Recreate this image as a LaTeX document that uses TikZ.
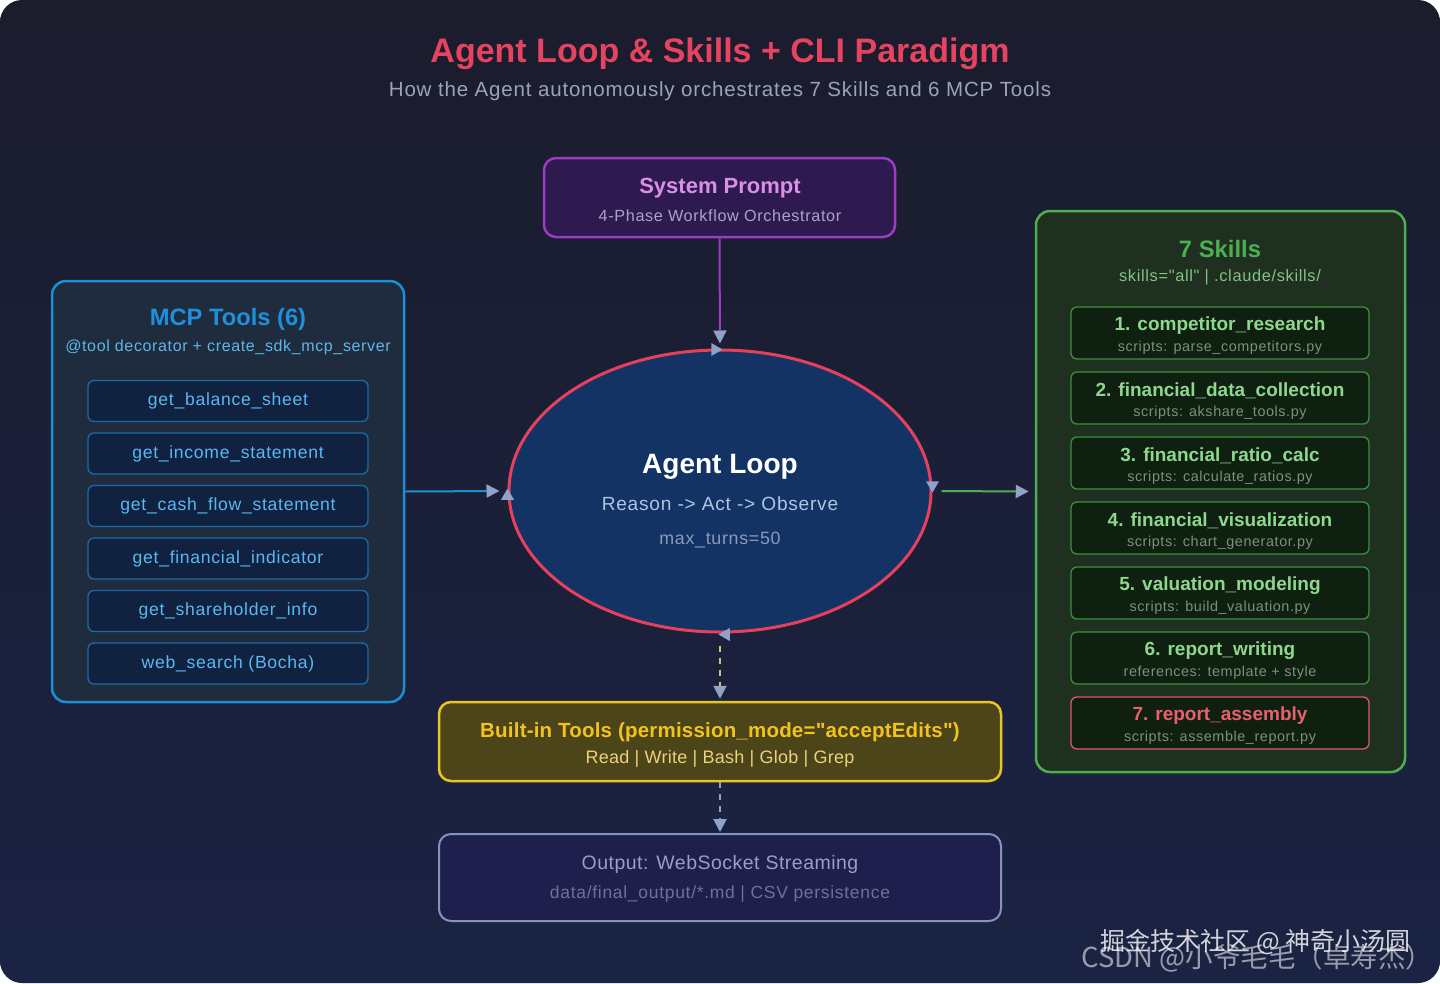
\documentclass[tikz,border=0pt]{standalone}
\usepackage{fontspec}
\setmainfont{Liberation Sans}[Ligatures=TeXOff]
\newfontfamily\cjk{Noto Sans CJK SC}
\usetikzlibrary{arrows.meta,shapes.geometric}
\definecolor{bgtop}{HTML}{1B1C2C}
\definecolor{bgbot}{HTML}{1B2344}
\definecolor{titlec}{HTML}{E5435F}
\definecolor{subc}{HTML}{9AA3BD}
\definecolor{spfill}{HTML}{2E1A4F}
\definecolor{spdraw}{HTML}{9C3CC2}
\definecolor{sptext}{HTML}{D890E4}
\definecolor{spsub}{HTML}{A8A2D0}
\definecolor{mcpfill}{HTML}{1F2C3E}
\definecolor{mcpdraw}{HTML}{1B8FD8}
\definecolor{mcptext}{HTML}{1E90DC}
\definecolor{mcpsub}{HTML}{5FB5E8}
\definecolor{itemfill}{HTML}{10223F}
\definecolor{itemdraw}{HTML}{1D6AA8}
\definecolor{itemtext}{HTML}{5AB8F0}
\definecolor{ellfill}{HTML}{123363}
\definecolor{elldraw}{HTML}{E5405C}
\definecolor{reasonc}{HTML}{B0C4E4}
\definecolor{maxc}{HTML}{8A9CBC}
\definecolor{skfill}{HTML}{1F2F20}
\definecolor{skdraw}{HTML}{4CB050}
\definecolor{sksub}{HTML}{82C482}
\definecolor{sifill}{HTML}{102010}
\definecolor{sidraw}{HTML}{3D8F3D}
\definecolor{sititle}{HTML}{8ED88E}
\definecolor{sisub}{HTML}{7D8F7D}
\definecolor{redd}{HTML}{E0566A}
\definecolor{redt}{HTML}{E8606E}
\definecolor{btfill}{HTML}{4B4519}
\definecolor{btdraw}{HTML}{EAC425}
\definecolor{bttitle}{HTML}{F2C21F}
\definecolor{btsub}{HTML}{ECD27A}
\definecolor{outfill}{HTML}{1E1F4C}
\definecolor{outdraw}{HTML}{8494BD}
\definecolor{outtitle}{HTML}{9AA0C0}
\definecolor{outsub}{HTML}{6C7394}
\definecolor{arrowc}{HTML}{8FA3C8}
\definecolor{dashy}{HTML}{D8C45A}
\begin{document}
\begin{tikzpicture}[x=1pt,y=-1pt,
  fs/.style 2 args={font=\fontsize{#1}{#1}\selectfont\addfontfeature{LetterSpace=#2}, yshift=-2pt},
  fsb/.style 2 args={font=\fontsize{#1}{#1}\selectfont\bfseries\addfontfeature{LetterSpace=#2}, yshift=-2pt},
  container/.style={draw, line width=2.5pt, rounded corners=14pt, inner sep=0pt},
  toolbox/.style={draw=itemdraw, fill=itemfill, line width=1.3pt, rounded corners=6pt,
     minimum width=280pt, minimum height=41pt, inner sep=0pt, text=itemtext, fs={17.6}{4}},
  skillbox/.style={draw=sidraw, fill=sifill, line width=1.3pt, rounded corners=6pt,
     minimum width=298pt, minimum height=52pt, inner sep=0pt},
  sktitle/.style={fsb={19}{0}, text=sititle, inner sep=0pt},
  sksubt/.style={fs={14.4}{4}, text=sisub, inner sep=0pt},
  tip/.style={-{Triangle[length=13pt,width=13pt,color=arrowc]}},
  tipmark/.style={regular polygon, regular polygon sides=3, fill=arrowc, inner sep=0pt, minimum size=15pt}
]
% background
\shade[top color=bgtop, bottom color=bgbot, rounded corners=22pt] (0,0) rectangle (1440,983);
\useasboundingbox (0,0) rectangle (1440,983);

% title
\node[fsb={34}{0}, yshift=-2pt, text=titlec] (title) at (720,50) {Agent Loop \& Skills + CLI Paradigm};
\node[fs={20.5}{4}, text=subc] (subtitle) at (720,89) {How the Agent autonomously orchestrates 7 Skills and 6 MCP Tools};

% system prompt
\node[container, draw=spdraw, fill=spfill, rounded corners=12pt, minimum width=351pt, minimum height=79pt] (sp) at (719.5,197.5) {};
\node[fsb={22}{0}, text=sptext] (spt) at (720,186) {System Prompt};
\node[fs={16.2}{4}, text=spsub] (sps) at (720,214) {4-Phase Workflow Orchestrator};

% MCP tools
\node[container, draw=mcpdraw, fill=mcpfill, minimum width=352pt, minimum height=421pt] (mcp) at (228,491.5) {};
\node[fsb={23.7}{0}, text=mcptext] (mcpt) at (228,317) {MCP Tools (6)};
\node[fs={16}{4}, text=mcpsub] (mcps) at (228,345) {@tool decorator + create\_sdk\_mcp\_server};
\node[toolbox] (m1) at (228,399) {get\_balance\_sheet};
\node[toolbox] (m2) at (228,451.5) {get\_income\_statement};
\node[toolbox] (m3) at (228,504) {get\_cash\_flow\_statement};
\node[toolbox] (m4) at (228,556.5) {get\_financial\_indicator};
\node[toolbox] (m5) at (228,609) {get\_shareholder\_info};
\node[toolbox] (m6) at (228,661.5) {web\_search (Bocha)};

% agent loop
\node[ellipse, draw=elldraw, fill=ellfill, line width=3pt, minimum width=422pt, minimum height=282pt, inner sep=0pt] (loop) at (720,491) {};
\node[fsb={28}{0}, text=white] (loopt) at (720,465) {Agent Loop};
\node[fs={19.1}{4}, text=reasonc] (loops) at (720,502) {Reason -> Act -> Observe};
\node[fs={17.8}{4}, text=maxc] (loopm) at (720,538) {max\_turns=50};

% skills
\node[container, draw=skdraw, fill=skfill, minimum width=369pt, minimum height=561pt] (sk) at (1220.5,491.5) {};
\node[fsb={23.8}{0}, text=skdraw] (skt) at (1220,247) {7 Skills};
\node[fs={16.4}{4}, text=sksub] (sks) at (1220,275) {skills="all" | .claude/skills/};

\node[skillbox] (s1) at (1220,333) {};
\node[sktitle] (s1t) at (1220,324) {1. competitor\_research};
\node[sksubt] (s1s) at (1220,346) {scripts: parse\_competitors.py};
\node[skillbox] (s2) at (1220,398) {};
\node[sktitle] (s2t) at (1220,389) {2. financial\_data\_collection};
\node[sksubt] (s2s) at (1220,411) {scripts: akshare\_tools.py};
\node[skillbox] (s3) at (1220,463) {};
\node[sktitle] (s3t) at (1220,454) {3. financial\_ratio\_calc};
\node[sksubt] (s3s) at (1220,476) {scripts: calculate\_ratios.py};
\node[skillbox] (s4) at (1220,528) {};
\node[sktitle] (s4t) at (1220,519) {4. financial\_visualization};
\node[sksubt] (s4s) at (1220,541) {scripts: chart\_generator.py};
\node[skillbox] (s5) at (1220,593) {};
\node[sktitle] (s5t) at (1220,584) {5. valuation\_modeling};
\node[sksubt] (s5s) at (1220,606) {scripts: build\_valuation.py};
\node[skillbox] (s6) at (1220,658) {};
\node[sktitle] (s6t) at (1220,649) {6. report\_writing};
\node[sksubt] (s6s) at (1220,671) {references: template + style};
\node[skillbox, draw=redd] (s7) at (1220,723) {};
\node[sktitle, text=redt] (s7t) at (1220,714) {7. report\_assembly};
\node[sksubt] (s7s) at (1220,736) {scripts: assemble\_report.py};

% built-in tools
\node[container, draw=btdraw, fill=btfill, rounded corners=12pt, minimum width=562pt, minimum height=79pt] (bt) at (720,741.5) {};
\node[fsb={20.5}{1}, text=bttitle] (btt) at (720,730) {Built-in Tools (permission\_mode="acceptEdits")};
\node[fs={18}{1.5}, text=btsub] (bts) at (720,757) {Read | Write | Bash | Glob | Grep};

% output
\node[container, draw=outdraw, fill=outfill, line width=2pt, rounded corners=12pt, minimum width=562pt, minimum height=87pt] (out) at (720,877.5) {};
\node[fs={19.5}{2.5}, text=outtitle] (outt) at (720,862) {Output: WebSocket Streaming};
\node[fs={17.5}{4}, text=outsub] (outs) at (720,892) {data/final\_output/*.md | CSV persistence};

% connectors
\draw[spdraw, line width=2pt, tip, shorten >=5pt] (sp.south) -- (loop.north);
\draw[mcpdraw, line width=2pt, tip] (mcp.east) -- ([xshift=-8pt]loop.west);
\draw[skdraw, line width=2pt, tip, shorten <=9pt, shorten >=6pt] (loop.east) -- (sk.west);
\draw[dashy, line width=2pt, dash pattern=on 6pt off 6pt, tip, shorten <=12pt, shorten >=2pt] (loop.south) -- (bt.north);
\draw[arrowc, line width=2pt, dash pattern=on 6pt off 6pt, tip, shorten >=1pt] (bt.south) -- (out.north);

% extra markers on the ellipse
\node[tipmark, rotate=-90] (mk1) at ([xshift=-5pt,yshift=-1pt]loop.north) {};
\node[tipmark] (mk2) at ([yshift=-5pt]loop.west) {};
\node[tipmark, rotate=180] (mk3) at ([yshift=6pt]loop.east) {};
\node[tipmark, rotate=90] (mk4) at ([xshift=6pt,yshift=-1pt]loop.south) {};

% watermarks
\node[font=\cjk\fontsize{25}{25}\selectfont, text=white, opacity=0.8, anchor=east] (wm1) at (1414,942) {掘金技术社区 @ 神奇小汤圆};
\node[font=\cjk\fontsize{27.5}{27.5}\selectfont, text=white, opacity=0.55, anchor=west] (wm2) at (1078,958) {CSDN @小爷毛毛（卓寿杰）};
\end{tikzpicture}
\end{document}
